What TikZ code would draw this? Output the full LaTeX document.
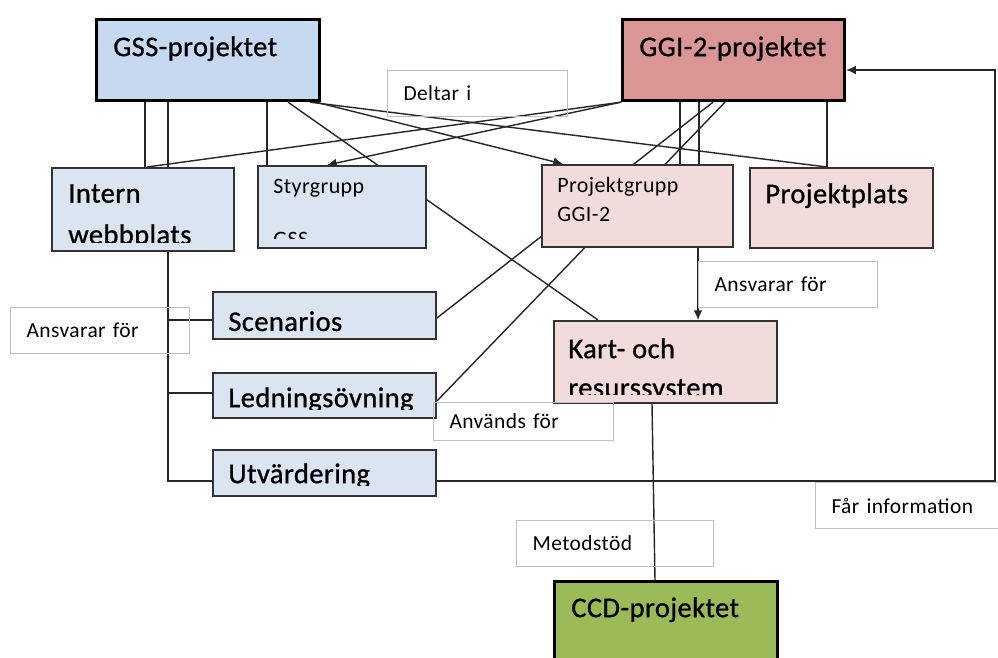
\documentclass[tikz,border=0pt]{standalone}
\usepackage{fontspec}
\setmainfont{Carlito}[LetterSpace=2]
\newfontfamily\heavyfont{Carlito}[LetterSpace=1.5, FakeBold=0.9]
\usetikzlibrary{backgrounds,arrows.meta}

\definecolor{gssblue}{HTML}{C6D9F1}
\definecolor{paleblue}{HTML}{DBE5F1}
\definecolor{ggired}{HTML}{D99694}
\definecolor{palered}{HTML}{F2DCDB}
\definecolor{ccdgreen}{HTML}{9BBB59}
\definecolor{lblgray}{HTML}{BFBFBF}

\tikzset{
  box/.style={draw=black!80, line width=1.1pt, anchor=north west, inner sep=0pt},
  mainbox/.style={box, draw=black, line width=1.8pt},
  lbl/.style={draw=lblgray, line width=0.6pt, anchor=north west, inner xsep=3.2mm, inner ysep=0pt,
    minimum height=9.2mm, align=left, font=\fontsize{12.2}{14}\selectfont},
  big/.style={anchor=north west, inner sep=0pt, align=left, font=\heavyfont\fontsize{16.2}{22.2}\selectfont},
  small/.style={anchor=north west, inner sep=0pt, align=left, font=\fontsize{12.5}{16.5}\selectfont},
  conn/.style={line width=0.8pt, draw=black!85},
  tip/.style={-{Latex[length=5.5pt,width=5pt]}},
}

\begin{document}
\begin{tikzpicture}[x=0.2mm, y=-0.2mm]
    \useasboundingbox (0,0) rectangle (998,657);

    % boxes
    \node[mainbox, fill=gssblue, minimum width=44.6mm, minimum height=16.2mm] (gss) at (95,18) {};
    \node[mainbox, fill=ggired, minimum width=44.4mm, minimum height=16.2mm] (ggi) at (621,18) {};
    \node[box, fill=paleblue, minimum width=36.4mm, minimum height=16.6mm] (intern) at (51,167) {};
    \node[box, fill=paleblue, minimum width=33.6mm, minimum height=16.4mm] (styr) at (257,165) {};
    \node[box, fill=palered, minimum width=38.2mm, minimum height=16.4mm] (pgrp) at (541,164) {};
    \node[box, fill=palered, minimum width=36.6mm, minimum height=16mm] (pplats) at (749,167) {};
    \node[box, fill=paleblue, minimum width=44.6mm, minimum height=9.4mm] (scen) at (212,291) {};
    \node[box, fill=paleblue, minimum width=44.6mm, minimum height=9mm] (led) at (212,372) {};
    \node[box, fill=paleblue, minimum width=44.6mm, minimum height=9.2mm] (utv) at (212,449) {};
    \node[box, fill=palered, minimum width=44.6mm, minimum height=16.4mm] (kart) at (553,320) {};
    \node[mainbox, fill=ccdgreen, minimum width=44.6mm, minimum height=20mm] (ccd) at (553,580) {};

    % texts
    \node[big] (gss-t) at (113,36) {GSS-projektet};
    \node[big] (ggi-t) at (639,36) {GGI-2-projektet};
    \node[small] (pgrp-t) at (557,177) {Projektgrupp\\GGI-2};
    \node[big] (pplats-t) at (765,183) {Projektplats};
    \node[big] (scen-t) at (228,311) {Scenarios};
    \node[big] (ccd-t) at (571,597) {CCD-projektet};
    \begin{scope}
        \clip (intern.north west) rectangle ([yshift=1.8mm]intern.south east);
        \node[big] (intern-t) at (68,184) {Intern\\[1.4pt]webbplats};
    \end{scope}
    \begin{scope}
        \clip (styr.north west) rectangle ([yshift=2mm]styr.south east);
        \node[small] (styr-t) at (273,179) {Styrgrupp\\[13.7pt]GSS};
    \end{scope}
    \begin{scope}
        \clip (led.north west) rectangle ([yshift=1.8mm]led.south east);
        \node[big] (led-t) at (228,387) {Ledningsövning};
    \end{scope}
    \begin{scope}
        \clip (utv.north west) rectangle ([yshift=2.2mm]utv.south east);
        \node[big] (utv-t) at (228,463) {Utvärdering};
    \end{scope}
    \begin{scope}
        \clip (kart.north west) rectangle ([yshift=1.8mm]kart.south east);
        \node[big] (kart-t) at (568,338) {Kart- och\\resurssystem};
    \end{scope}

    % labels
    \node[lbl, text width=29.6mm] (deltar) at (387,70) {Deltar i};
    \node[lbl, text width=29.4mm] (ansvar-l) at (10,307) {Ansvarar för};
    \node[lbl, text width=29.4mm] (ansvar-r) at (698,261) {Ansvarar för};
    \node[lbl, text width=29.6mm, minimum height=7.6mm] (anvands) at (433,402) {Används för};
    \node[lbl, text width=33mm] (metod) at (516,520) {Metodstöd};
    \node[lbl, text width=32.6mm] (far) at (815,482) {Får information};

    \coordinate (ret) at (995,70);

    \begin{scope}[on background layer]
        \draw[conn] (gss.south -| 145,0) -- (intern.north -| 145,0);
        \draw[conn] (gss.south -| 168,0) |- (utv.west |- 0,481);
        \draw[conn] (scen.west |- 0,320) -- ++(-44,0);
        \draw[conn] (led.west |- 0,393) -- ++(-44,0);
        \draw[conn] (gss.south -| 267,0) -- (styr.north -| 267,0);
        \draw[conn] (gss.south -| 288,0) -- (kart.north -| 598,0);
        \draw[conn,tip] (gss.south -| 316,0) -- (pgrp.north -| 563,0);
        \draw[conn] (gss.south -| 310,0) -- (pplats.north -| 827,0);
        \draw[conn] (ggi.south west) -- (intern.north -| 147,0);
        \draw[conn,tip] (ggi.south west) -- (styr.north -| 327,0);
        \draw[conn] (ggi.south -| 680,0) -- (pgrp.north -| 680,0);
        \draw[conn] (ggi.south -| 699,0) -- (pgrp.north -| 699,0);
        \draw[conn,tip] (pgrp.south -| 698,0) -- (kart.north -| 698,0);
        \draw[conn] (ggi.south -| 713,0) -- (scen.east |- 0,318);
        \draw[conn] (ggi.south -| 725,0) -- (led.east |- 0,401);
        \draw[conn] (ggi.south -| 827,0) -- (pplats.north -| 827,0);
        \draw[conn,tip] (utv.east |- 0,481) -| (ret) -- (ggi.east |- ret);
        \draw[conn] (kart.south -| 652,0) -- (ccd.north -| 655,0);
    \end{scope}
\end{tikzpicture}
\end{document}
